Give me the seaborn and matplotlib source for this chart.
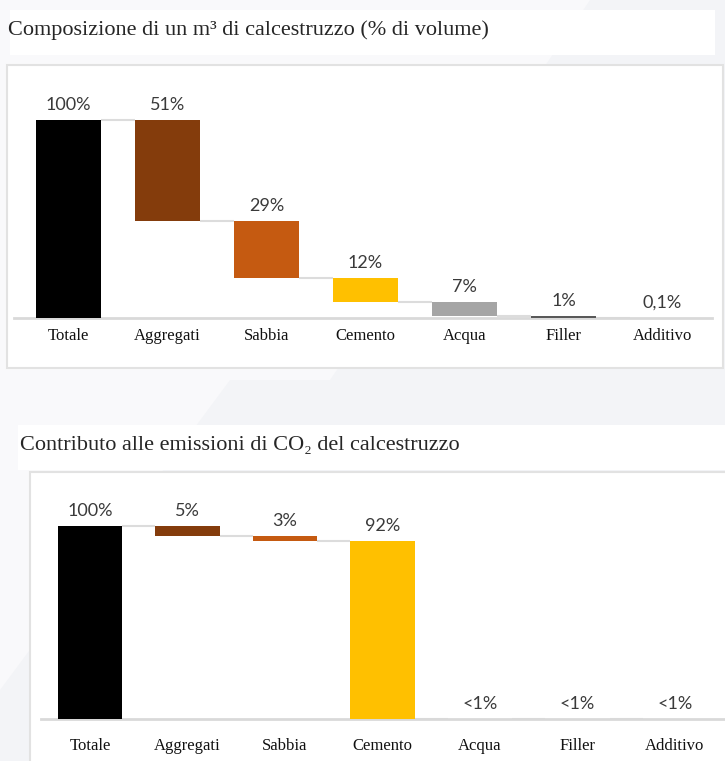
import numpy as np
import pandas as pd
import matplotlib
matplotlib.use("Agg")
import matplotlib.pyplot as plt
from matplotlib.patches import Rectangle, Polygon
import seaborn as sns

# dati
categorie = ["Totale", "Aggregati", "Sabbia", "Cemento", "Acqua", "Filler", "Additivo"]
colori = ["#000000", "#843c0c", "#c55a11", "#ffc000", "#a5a5a5", "#595959", "#404040"]

# volume (%)
vol_valori = [100, 51, 29, 12, 7, 1, 0.1]
vol_etichette = ["100%", "51%", "29%", "12%", "7%", "1%", "0,1%"]

# emissioni CO2 (%)
co2_valori = [100, 5, 3, 92, 0, 0, 0]
co2_etichette = ["100%", "5%", "3%", "92%", "<1%", "<1%", "<1%"]

titolo1 = "Composizione di un m\u00b3 di calcestruzzo (% di volume)"
titolo2 = "Contributo alle emissioni di CO\u2082 del calcestruzzo"

sns.set_style("white")
SERIF = ["Liberation Serif", "DejaVu Serif"]
SANS = ["Lato", "DejaVu Sans"]
plt.rcParams["font.family"] = SANS

W, H = 725, 761
fig = plt.figure(figsize=(W / 100, H / 100), dpi=100)
fig.patch.set_facecolor("#f3f4f7")


def px_rect(x0, y0, x1, y1):
    return [x0 / W, 1 - y1 / H, (x1 - x0) / W, (y1 - y0) / H]


# sfondo decorativo
for pts in [[(0, 0), (590, 0), (330, 380), (0, 380)],
            [(0, 380), (230, 380), (0, 690)],
            [(1010, 0), (725, 0), (725, 380), (960, 380)]]:
    fig.patches.append(Polygon([(x / W, 1 - y / H) for x, y in pts], closed=True,
                               transform=fig.transFigure, facecolor="#f9f9fb",
                               edgecolor="none", zorder=-5))


def box(x0, y0, x1, y1, edge="none"):
    r = px_rect(x0, y0, x1, y1)
    fig.patches.append(Rectangle((r[0], r[1]), r[2], r[3], transform=fig.transFigure,
                                 facecolor="white", edgecolor=edge, linewidth=1.5, zorder=-1))


box(10, 10, 715, 55)
box(7, 65, 723, 368, edge="#e2e2e2")
box(18, 425, 730, 470)
box(30, 472, 735, 775, edge="#e2e2e2")

fig.text(8 / W, 1 - 30 / H, titolo1, family=SERIF, fontsize=16, va="center", ha="left")
fig.text(20 / W, 1 - 445 / H, titolo2, family=SERIF, fontsize=16, va="center", ha="left")


def waterfall(ax, valori, etichette, pad):
    # base di ogni barra: il totale parte da zero, gli altri scendono
    livelli = [valori[0]]
    basi = [0]
    for v in valori[1:]:
        basi.append(livelli[-1] - v)
        livelli.append(livelli[-1] - v)
    cime = [b + v for b, v in zip(basi, valori)]

    df = pd.DataFrame({"cat": categorie, "val": valori})
    sns.barplot(data=df, x="cat", y="val", bottom=basi, order=categorie,
                color="#000000", saturation=1,
                width=0.66, errorbar=None, ax=ax, zorder=3)
    for p, c in zip(ax.patches, colori):
        p.set_facecolor(c)
        p.set_edgecolor("none")

    # connettori
    for i in range(len(valori) - 1):
        ax.plot([i + 0.33, i + 1 - 0.33], [livelli[i], livelli[i]],
                color="#dcdcdc", lw=1.5, zorder=2, solid_capstyle="butt")

    for i, (t, e) in enumerate(zip(cime, etichette)):
        ax.annotate(e, (i, max(t, 0)), xytext=(0, 5), textcoords="offset points",
                    ha="center", va="bottom", fontsize=13, color="#3a3a3a",
                    family=SANS, zorder=4)

    ax.set_xlabel("")
    ax.set_ylabel("")
    ax.set_yticks([])
    for s in ["top", "left", "right"]:
        ax.spines[s].set_visible(False)
    ax.spines["bottom"].set_color("#d9d9d9")
    ax.spines["bottom"].set_linewidth(2)
    ax.tick_params(axis="x", length=0, pad=pad)
    for lab in ax.get_xticklabels():
        lab.set_family(SERIF)
        lab.set_fontsize(12)
        lab.set_color("#111111")
    ax.patch.set_alpha(0)


# grafico 1
ax1 = fig.add_axes([14 / W, 1 - 318 / H, 698 / W, 243 / H])
waterfall(ax1, vol_valori, vol_etichette, pad=7)
ax1.set_xlim(-0.55, 6.5)
ax1.set_ylim(0, 243 / 1.98)

# grafico 2
ax2 = fig.add_axes([41.25 / W, 1 - 719 / H, 682.5 / W, 239 / H])
waterfall(ax2, co2_valori, co2_etichette, pad=14)
ax2.set_xlim(-0.5, 6.5)
ax2.set_ylim(0, 239 / 1.93)

fig.savefig("out.png", dpi=100, facecolor=fig.get_facecolor())
